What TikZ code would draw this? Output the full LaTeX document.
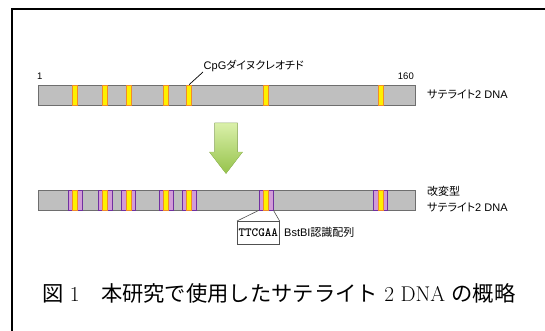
\documentclass[tikz,border=0pt]{standalone}
\usepackage{fontspec}
\newfontfamily\jp[RawFeature=+palt]{Noto Sans CJK JP}
\newfontfamily\jpfull{Noto Sans CJK JP}
\newfontfamily\lsans{Liberation Sans}
\newfontfamily\ttb{lmmonolt10-bold.otf}
\definecolor{barfill}{RGB}{191,191,191}
\definecolor{barline}{RGB}{110,110,110}
\definecolor{cpgyellow}{RGB}{255,240,0}
\definecolor{cpgorange}{RGB}{240,140,40}
\definecolor{sitepink}{RGB}{210,155,215}
\definecolor{sitepurple}{RGB}{112,48,160}
\definecolor{arrowtop}{RGB}{218,240,170}
\definecolor{arrowbot}{RGB}{150,195,75}
\definecolor{linegray}{RGB}{80,80,80}
\tikzset{
  bar/.style={draw=barline, fill=barfill, line width=0.8pt, minimum width=377pt, minimum height=20pt, inner sep=0pt, anchor=north west},
  cpg/.style={draw=cpgorange, fill=cpgyellow, line width=0.8pt, minimum width=5pt, minimum height=20pt, inner sep=0pt},
  site/.style={draw=sitepurple, fill=sitepink, line width=0.8pt, minimum width=14pt, minimum height=20pt, inner sep=0pt},
  lbl/.style={font=\fontsize{11}{16}\selectfont, inner sep=0pt},
  small/.style={font=\lsans\fontsize{9.5}{11}\selectfont, inner sep=0pt}
}
\begin{document}
\begin{tikzpicture}[x=1pt,y=-1pt]
\useasboundingbox (0,0) rectangle (545,331);
% frame
\draw[line width=2.2pt] (12,332) -- (12,9) -- (546,9);
% top bar
\node[bar] (topbar) at (38,85) {};
\foreach \x [count=\i] in {75.1,105.1,128.5,166.2,189.2,266.1,380.7}
  \node[cpg] (s\i) at (\x,95) {};
\node[small, anchor=base west] (one) at (37,80) {1};
\node[small, anchor=base east] (end) at (414,80) {160};
\node[lbl, anchor=south west, inner sep=0.5pt] (cpglbl) at (203,72) {{\lsans CpG}{\jp ダイヌクレオチド}};
\draw[line width=0.7pt] (s5.north) -- (cpglbl.south west);
\node[lbl, anchor=west] (toplbl) at (427,94) {{\jp サテライト}{\lsans 2 DNA}};
% arrow
\fill[top color=arrowtop, bottom color=arrowbot, draw=arrowbot!90!white, line width=0.4pt]
  (214.5,123) -- (237.5,123) -- (237.5,152) -- (242.5,152) -- (226,173.5) -- (209.5,152) -- (214.5,152) -- cycle;
% bottom bar
\node[bar] (botbar) at (38,190) {};
\foreach \x [count=\i] in {75.1,105.1,128.5,166.2,189.2,266.1,380.7}
  {\node[site] (g\i) at (\x,200) {};
   \node[cpg] (b\i) at (\x,200) {};}
\node[lbl, anchor=west, align=left] (botlbl) at (427,199) {{\jp 改変型}\\{\jp サテライト}{\lsans 2 DNA}};
% recognition site
\node[draw=linegray, line width=0.6pt, minimum width=42pt, minimum height=23pt, inner sep=0pt, anchor=north west,
      font=\ttb\fontsize{12.5}{12.5}\selectfont] (box) at (237,221) {TTCGAA};
\draw[linegray, line width=0.6pt] (g6.south west) -- (box.north west);
\draw[linegray, line width=0.6pt] (g6.south east) -- (box.north east);
\node[lbl, anchor=base west] (bstlbl) at (284,236) {{\lsans BstBI}{\jpfull 認識配列}};
% caption
\node[anchor=base west, inner sep=0pt, font=\fontsize{21.3}{24}\selectfont] (caption) at (42,301)
  {{\jpfull 図} 1\quad{\jpfull 本研究で使用したサテライト} 2 DNA {\jpfull の概略}};
\end{tikzpicture}
\end{document}
